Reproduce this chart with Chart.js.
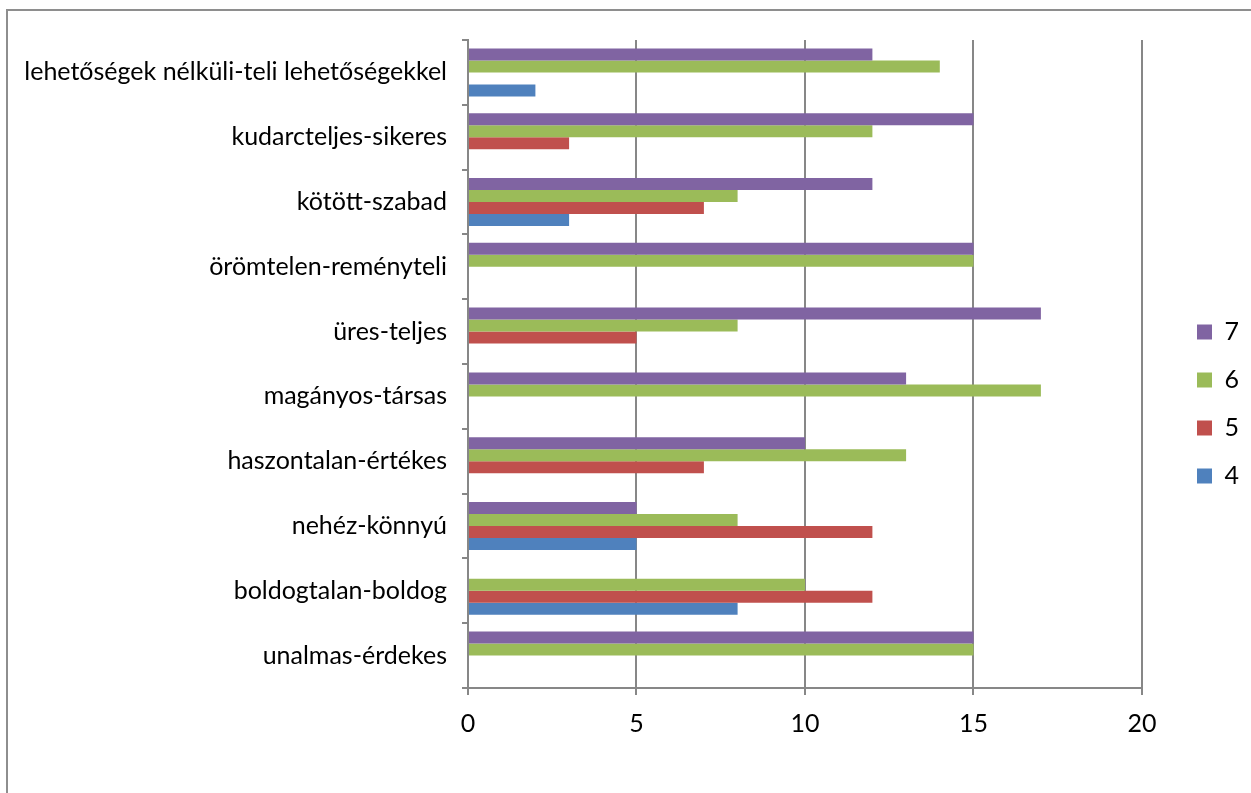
<!DOCTYPE html>
<html lang="hu">
<head>
<meta charset="utf-8">
<title>Válaszok megoszlása</title>
<script src="https://cdn.jsdelivr.net/npm/chart.js@4.4.1/dist/chart.umd.min.js"></script>
<style>
  html, body { margin: 0; padding: 0; background: #ffffff; overflow: hidden; }
  #frame {
    position: absolute; left: 6px; top: 9px; width: 1300px; height: 900px;
    border: 2px solid #8e8e8e; box-sizing: border-box;
  }
  #wrap { position: absolute; left: 0; top: 0; width: 1251px; height: 793px; }
</style>
</head>
<body>
<div id="frame"></div>
<div id="wrap"><canvas id="chart" width="1251" height="793"></canvas></div>
<script>
// Semantic-differential item pairs, drawn top to bottom
const categories = [
  'lehetőségek nélküli-teli lehetőségekkel',
  'kudarcteljes-sikeres',
  'kötött-szabad',
  'örömtelen-reményteli',
  'üres-teljes',
  'magányos-társas',
  'haszontalan-értékes',
  'nehéz-könnyú',
  'boldogtalan-boldog',
  'unalmas-érdekes'
];

// Number of answers per scale value (null = no answers)
const score7 = [12, 15, 12, 15, 17, 13, 10, 5, null, 15];
const score6 = [14, 12, 8, 15, 8, 17, 13, 8, 10, 15];
const score5 = [null, 3, 7, null, 5, null, 7, 12, 12, null];
const score4 = [2, null, 3, null, null, null, null, 5, 8, null];

const seriesLabels = ['7', '6', '5', '4'];
const xTicks = [0, 5, 10, 15, 20];

const colors = {
  '7': '#8064A2',
  '6': '#9BBB59',
  '5': '#C0504D',
  '4': '#4F81BD'
};

const seriesValues = { '7': score7, '6': score6, '5': score5, '4': score4 };

const FONT = "Lato, 'Open Sans', 'Liberation Sans', sans-serif";
const FONT_SIZE = 25;
const AXIS = '#878787';

// Shift the right-hand legend away from the plot edge and centre it on the items
const legendPlacement = {
  id: 'legendPlacement',
  afterLayout(chart) {
    const lg = chart.legend;
    const dx = chart.chartArea.right + 32 - lg.left;
    lg.left += dx; lg.right += dx;
    lg.top += 10; lg.bottom += 10;
  }
};

new Chart(document.getElementById('chart'), {
  type: 'bar',
  data: {
    labels: categories,
    datasets: seriesLabels.map(k => ({
      label: k,
      data: seriesValues[k],
      backgroundColor: colors[k],
      borderWidth: 0,
      categoryPercentage: 0.74,
      barPercentage: 1.0
    }))
  },
  options: {
    indexAxis: 'y',
    responsive: false,
    animation: false,
    layout: { padding: { left: 8, top: 40, right: 34, bottom: 45 } },
    plugins: {
      tooltip: { enabled: false },
      legend: {
        position: 'right',
        labels: {
          color: '#000000',
          font: { family: FONT, size: FONT_SIZE },
          boxWidth: 15,
          boxHeight: 15,
          padding: 23
        }
      }
    },
    scales: {
      x: {
        min: 0,
        max: 20,
        afterBuildTicks(scale) { scale.ticks = xTicks.map(v => ({ value: v })); },
        afterFit(scale) { scale.height = 60; },
        ticks: {
          color: '#000000',
          font: { family: FONT, size: FONT_SIZE },
          padding: 14,
          maxRotation: 0
        },
        grid: { color: AXIS, lineWidth: 2, tickLength: 7 },
        border: { display: true, color: AXIS, width: 2 }
      },
      y: {
        afterFit(scale) { scale.width = 460; },
        ticks: {
          color: '#000000',
          font: { family: FONT, size: FONT_SIZE },
          padding: 15,
          autoSkip: false
        },
        grid: { drawOnChartArea: false, color: AXIS, lineWidth: 2, tickLength: 6, offset: true },
        border: { display: true, color: AXIS, width: 2 }
      }
    }
  },
  plugins: [legendPlacement]
});
</script>
</body>
</html>
